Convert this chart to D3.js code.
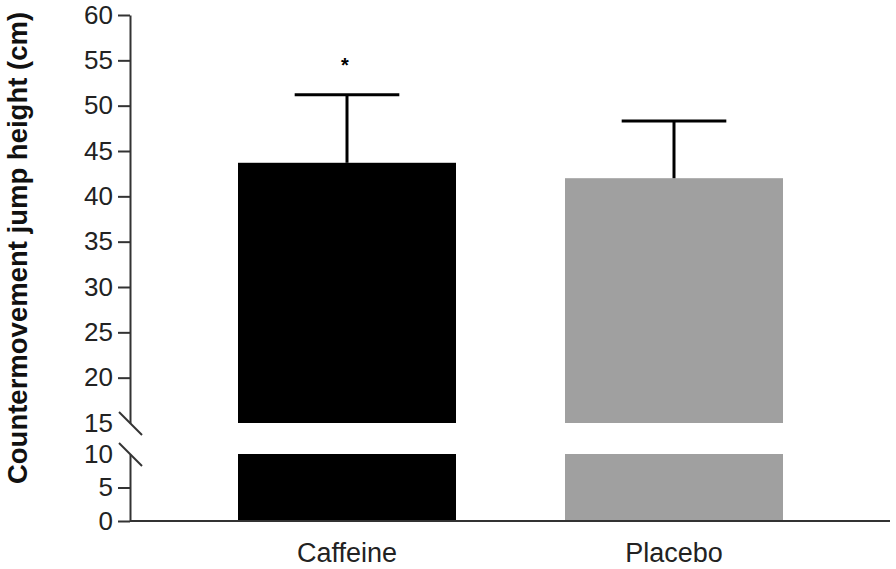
<!DOCTYPE html>
<html>
<head>
<meta charset="utf-8">
<script src="https://cdn.jsdelivr.net/npm/d3@7"></script>
<style>
  body { margin: 0; background: #fff; }
  svg { display: block; }
  .axis text { font-family: "Liberation Sans", Arial, sans-serif; font-size: 26px; fill: #222; }
  .axis path, .axis line { stroke: #333; stroke-width: 2px; }
</style>
</head>
<body>
<svg id="chart" width="896" height="569"></svg>
<script>
var categories = ['Caffeine', 'Placebo'];
var means = [43.7, 42.0];
var sds = [7.5, 6.3];
var barColors = ['#000000', '#a0a0a0'];
var significance = ['*', ''];
var upperTicks = [15, 20, 25, 30, 35, 40, 45, 50, 55, 60];
var lowerTicks = [0, 5, 10];

var AXIS_X = 130;
var BREAK_LO = 10;
var BREAK_HI = 15;

var svg = d3.select('#chart');

var x = d3.scaleBand()
  .domain(categories)
  .range([238, 783])
  .paddingInner(1 / 3)
  .paddingOuter(0);

// two segments of the broken y axis
var yUpper = d3.scaleLinear().domain([BREAK_HI, 60]).range([423, 15]);
var yLower = d3.scaleLinear().domain([0, BREAK_LO]).range([521, 454]);

var data = categories.map(function (c, i) {
  return { name: c, mean: means[i], sd: sds[i], color: barColors[i], sig: significance[i] };
});

// bars: lower piece and upper piece
svg.selectAll('.bar-lower')
  .data(data)
  .enter().append('rect')
  .attr('class', 'bar-lower')
  .attr('x', function (d) { return x(d.name); })
  .attr('width', x.bandwidth())
  .attr('y', yLower(BREAK_LO))
  .attr('height', yLower(0) - yLower(BREAK_LO))
  .attr('fill', function (d) { return d.color; });

svg.selectAll('.bar-upper')
  .data(data)
  .enter().append('rect')
  .attr('class', 'bar-upper')
  .attr('x', function (d) { return x(d.name); })
  .attr('width', x.bandwidth())
  .attr('y', function (d) { return yUpper(d.mean); })
  .attr('height', function (d) { return yUpper(BREAK_HI) - yUpper(d.mean); })
  .attr('fill', function (d) { return d.color; });

// error bars (upper only)
var capHalf = x.bandwidth() * 0.24;
var err = svg.selectAll('.err')
  .data(data)
  .enter().append('g')
  .attr('class', 'err')
  .attr('stroke', '#000')
  .attr('stroke-width', 3);

err.append('line')
  .attr('x1', function (d) { return x(d.name) + x.bandwidth() / 2; })
  .attr('x2', function (d) { return x(d.name) + x.bandwidth() / 2; })
  .attr('y1', function (d) { return yUpper(d.mean); })
  .attr('y2', function (d) { return yUpper(d.mean + d.sd); });

err.append('line')
  .attr('x1', function (d) { return x(d.name) + x.bandwidth() / 2 - capHalf; })
  .attr('x2', function (d) { return x(d.name) + x.bandwidth() / 2 + capHalf; })
  .attr('y1', function (d) { return yUpper(d.mean + d.sd); })
  .attr('y2', function (d) { return yUpper(d.mean + d.sd); });

svg.selectAll('.sig')
  .data(data)
  .enter().append('text')
  .attr('class', 'sig')
  .attr('x', function (d) { return x(d.name) + x.bandwidth() / 2 - 2; })
  .attr('y', function (d) { return yUpper(d.mean + d.sd) - 23; })
  .attr('text-anchor', 'middle')
  .style('font-family', 'Liberation Sans, Arial, sans-serif')
  .style('font-size', '20px')
  .style('font-weight', 'bold')
  .text(function (d) { return d.sig; });

// y axis, upper segment
var gUp = svg.append('g')
  .attr('class', 'axis')
  .attr('transform', 'translate(' + AXIS_X + ',0)')
  .call(d3.axisLeft(yUpper).tickValues(upperTicks).tickSize(12).tickSizeOuter(0).tickPadding(5));
gUp.selectAll('.tick').filter(function (d) { return d === BREAK_HI; }).select('line').remove();

// y axis, lower segment
var gLo = svg.append('g')
  .attr('class', 'axis')
  .attr('transform', 'translate(' + AXIS_X + ',0)')
  .call(d3.axisLeft(yLower).tickValues(lowerTicks).tickSize(12).tickSizeOuter(0).tickPadding(5));
gLo.selectAll('.tick').filter(function (d) { return d === BREAK_LO; }).select('line').remove();

// break marks
[yUpper(BREAK_HI), yLower(BREAK_LO)].forEach(function (yy) {
  svg.append('line')
    .attr('x1', AXIS_X - 11).attr('y1', yy - 11)
    .attr('x2', AXIS_X + 12).attr('y2', yy + 12)
    .attr('stroke', '#333')
    .attr('stroke-width', 2);
});

// x axis
var gX = svg.append('g')
  .attr('class', 'axis')
  .attr('transform', 'translate(0,' + yLower(0) + ')')
  .call(d3.axisBottom(x).tickSize(0).tickPadding(22));
gX.select('.domain').attr('d', 'M' + AXIS_X + ',0H890');
gX.selectAll('.tick text').attr('dy', '0.71em').style('font-size', '27px');

// y axis title
svg.append('text')
  .attr('transform', 'translate(27,248) rotate(-90)')
  .attr('text-anchor', 'middle')
  .style('font-family', 'Liberation Sans, Arial, sans-serif')
  .style('font-size', '27.5px')
  .style('font-weight', 'bold')
  .style('fill', '#111')
  .text('Countermovement jump height (cm)');
</script>
</body>
</html>
